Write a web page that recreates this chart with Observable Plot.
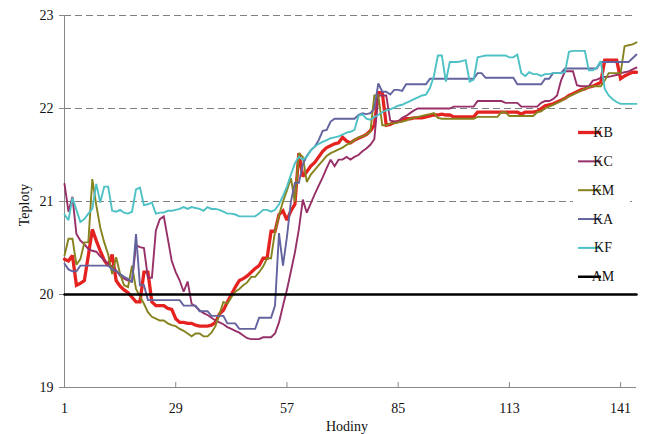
<!DOCTYPE html>
<html>
<head>
<meta charset="utf-8">
<script src="https://cdn.jsdelivr.net/npm/d3@7"></script>
<script src="https://cdn.jsdelivr.net/npm/@observablehq/plot@0.6"></script>
<style>
  html, body { margin: 0; padding: 0; background: #fff; }
  #chart { width: 645px; height: 434px; }
</style>
</head>
<body>
<div id="chart"></div>
<script>
// Hours 1..145
const hours = d3.range(1, 146);
const xTicks = [1, 29, 57, 85, 113, 141];
const yTicks = [19, 20, 21, 22, 23];
const gridValues = [21, 22, 23];
const seriesNames = ["KB", "KC", "KM", "KA", "KF", "AM"];
const seriesColors = ["#e42320", "#973068", "#86821e", "#63639f", "#4dc1c5", "#000000"];
const seriesWidths = [3.3, 1.9, 1.9, 1.9, 1.9, 2.5];
const legendWidths = [3.3, 2, 2, 2, 2, 2.5];
const xLabel = "Hodiny";
const yLabel = "Teploty";

const KB = [
  20.38, 20.36, 20.42, 20.10, 20.12, 20.15, 20.42, 20.70, 20.58, 20.47,
  20.37, 20.31, 20.43, 20.15, 20.09, 20.05, 20.02, 19.97, 19.92, 19.92,
  20.24, 20.24, 19.92, 19.88, 19.88, 19.88, 19.85, 19.84, 19.74, 19.70,
  19.70, 19.69, 19.69, 19.67, 19.66, 19.66, 19.66, 19.67, 19.70, 19.79,
  19.83, 19.92, 20.00, 20.08, 20.15, 20.17, 20.20, 20.24, 20.28, 20.31,
  20.39, 20.39, 20.68, 20.68, 20.86, 20.90, 20.80, 20.90, 20.97, 21.52,
  21.27, 21.32, 21.38, 21.42, 21.48, 21.54, 21.58, 21.60, 21.62, 21.63,
  21.69, 21.65, 21.63, 21.66, 21.68, 21.70, 21.72, 21.76, 21.82, 22.17,
  22.17, 21.82, 21.83, 21.85, 21.86, 21.87, 21.89, 21.89, 21.90, 21.90,
  21.90, 21.91, 21.92, 21.93, 21.93, 21.94, 21.93, 21.93, 21.91, 21.91,
  21.91, 21.91, 21.91, 21.91, 21.96, 21.96, 21.96, 21.96, 21.96, 21.96,
  21.96, 21.96, 21.96, 21.96, 21.96, 21.94, 21.96, 21.96, 21.96, 21.97,
  22.00, 22.03, 22.04, 22.05, 22.07, 22.09, 22.11, 22.14, 22.16, 22.18,
  22.20, 22.21, 22.23, 22.24, 22.26, 22.28, 22.52, 22.52, 22.52, 22.52,
  22.32, 22.35, 22.37, 22.39, 22.39
];
const KC = [
  21.19, 20.89, 21.05, 20.65, 20.58, 20.54, 20.49, 20.47, 20.46, 20.41,
  20.37, 20.33, 20.30, 20.26, 20.20, 20.17, 20.15, 20.14, 20.53, 20.51,
  20.50, 20.18, 20.18, 20.69, 20.81, 20.84, 20.60, 20.36, 20.24, 20.15,
  20.03, 20.14, 19.90, 19.87, 19.83, 19.80, 19.78, 19.75, 19.72, 19.70,
  19.68, 19.65, 19.63, 19.61, 19.59, 19.56, 19.53, 19.52, 19.52, 19.52,
  19.54, 19.54, 19.54, 19.58, 19.70, 19.88, 20.05, 20.25, 20.45, 20.70,
  21.02, 20.88, 20.98, 21.08, 21.17, 21.26, 21.36, 21.45, 21.38, 21.45,
  21.45, 21.48, 21.45, 21.48, 21.50, 21.54, 21.57, 21.61, 21.67, 22.14,
  22.14, 22.14, 21.87, 21.86, 21.86, 21.90, 21.92, 21.95, 21.98, 22.00,
  22.00, 22.00, 22.00, 22.00, 22.00, 22.00, 22.00, 22.00, 22.02, 22.02,
  22.02, 22.02, 22.02, 22.02, 22.08, 22.08, 22.08, 22.08, 22.08, 22.08,
  22.08, 22.06, 22.06, 22.06, 22.06, 22.02, 22.02, 22.02, 22.02, 22.02,
  22.06, 22.08, 22.08, 22.10, 22.14, 22.30, 22.40, 22.40, 22.40, 22.25,
  22.24, 22.24, 22.24, 22.30, 22.31, 22.33, 22.34, 22.34, 22.35, 22.36,
  22.38, 22.39, 22.40, 22.42, 22.44
];
const KM = [
  20.42, 20.60, 20.60, 20.32, 20.38, 20.56, 20.56, 21.24, 20.96, 20.72,
  20.56, 20.43, 20.22, 20.40, 20.22, 20.10, 20.08, 20.31, 20.06, 19.98,
  19.90, 19.81, 19.76, 19.74, 19.72, 19.72, 19.69, 19.67, 19.66, 19.63,
  19.61, 19.58, 19.55, 19.58, 19.58, 19.55, 19.55, 19.59, 19.66, 19.79,
  19.92, 19.90, 19.97, 20.03, 20.06, 20.10, 20.13, 20.19, 20.19, 20.24,
  20.30, 20.39, 20.39, 20.68, 20.85, 21.00, 21.12, 21.25, 21.00, 21.52,
  21.48, 21.21, 21.29, 21.34, 21.39, 21.44, 21.49, 21.52, 21.54, 21.56,
  21.58, 21.61, 21.63, 21.66, 21.69, 21.70, 21.72, 21.75, 22.14, 22.14,
  21.82, 21.82, 21.84, 21.84, 21.85, 21.86, 21.87, 21.89, 21.90, 21.91,
  21.92, 21.93, 21.94, 21.95, 21.90, 21.89, 21.89, 21.89, 21.89, 21.89,
  21.89, 21.89, 21.89, 21.89, 21.91, 21.91, 21.91, 21.91, 21.91, 21.91,
  21.96, 21.96, 21.92, 21.92, 21.92, 21.92, 21.92, 21.92, 21.92, 21.96,
  21.97, 22.00, 22.02, 22.04, 22.06, 22.08, 22.11, 22.13, 22.15, 22.17,
  22.19, 22.21, 22.23, 22.24, 22.24, 22.24, 22.30, 22.38, 22.38, 22.38,
  22.38, 22.67, 22.68, 22.69, 22.71
];
const KA = [
  20.33, 20.27, 20.25, 20.25, 20.31, 20.31, 20.31, 20.31, 20.31, 20.31,
  20.31, 20.31, 20.27, 20.25, 20.22, 20.19, 20.17, 20.13, 20.65, 20.10,
  20.10, 19.94, 19.94, 19.94, 19.94, 19.94, 19.94, 19.94, 19.94, 19.94,
  19.88, 19.88, 19.88, 19.88, 19.82, 19.82, 19.82, 19.77, 19.77, 19.77,
  19.77, 19.69, 19.69, 19.69, 19.63, 19.63, 19.63, 19.63, 19.63, 19.75,
  19.75, 19.75, 19.75, 19.88, 20.66, 20.31, 20.62, 21.00, 21.20, 21.20,
  21.40, 21.49, 21.55, 21.59, 21.66, 21.76, 21.77, 21.86, 21.89, 21.89,
  21.89, 21.89, 21.89, 21.89, 21.93, 21.95, 21.94, 21.95, 22.00, 22.27,
  22.18, 22.18, 22.15, 22.20, 22.20, 22.19, 22.26, 22.26, 22.26, 22.26,
  22.26, 22.26, 22.32, 22.32, 22.32, 22.32, 22.32, 22.32, 22.32, 22.32,
  22.32, 22.32, 22.32, 22.32, 22.38, 22.38, 22.33, 22.33, 22.33, 22.33,
  22.33, 22.33, 22.33, 22.33, 22.26, 22.26, 22.26, 22.26, 22.26, 22.26,
  22.26, 22.32, 22.32, 22.38, 22.38, 22.38, 22.43, 22.43, 22.43, 22.43,
  22.43, 22.43, 22.43, 22.43, 22.43, 22.50, 22.50, 22.50, 22.50, 22.50,
  22.50, 22.50, 22.50, 22.54, 22.58
];
const KF = [
  20.86, 20.80, 21.04, 20.91, 20.78, 20.81, 20.87, 20.92, 21.19, 20.99,
  21.16, 21.16, 20.90, 20.89, 20.91, 20.88, 20.87, 20.89, 21.13, 21.15,
  20.96, 20.97, 20.99, 20.87, 20.88, 20.88, 20.90, 20.90, 20.91, 20.92,
  20.94, 20.92, 20.94, 20.93, 20.92, 20.90, 20.94, 20.92, 20.92, 20.91,
  20.89, 20.87, 20.87, 20.86, 20.84, 20.84, 20.84, 20.84, 20.84, 20.87,
  20.91, 20.91, 20.89, 20.91, 20.97, 21.06, 21.16, 21.29, 21.41, 21.48,
  21.45, 21.48, 21.55, 21.59, 21.62, 21.64, 21.66, 21.68, 21.69, 21.70,
  21.72, 21.74, 21.75, 21.77, 21.92, 21.94, 21.89, 21.88, 21.91, 21.93,
  21.96, 21.98, 21.99, 22.01, 22.03, 22.04, 22.06, 22.08, 22.10, 22.12,
  22.14, 22.15, 22.22, 22.35, 22.57, 22.57, 22.29, 22.50, 22.50, 22.50,
  22.51, 22.52, 22.29, 22.31, 22.55, 22.56, 22.57, 22.57, 22.57, 22.57,
  22.57, 22.57, 22.55, 22.55, 22.58, 22.38, 22.35, 22.39, 22.37, 22.37,
  22.35, 22.37, 22.37, 22.38, 22.38, 22.38, 22.39, 22.61, 22.62, 22.62,
  22.62, 22.62, 22.41, 22.41, 22.44, 22.51, 22.21, 22.14, 22.10, 22.07,
  22.05, 22.05, 22.05, 22.05, 22.05
];
const AM_LEVEL = 20;
const AM = hours.map(() => AM_LEVEL);

const seriesValues = [KB, KC, KM, KA, KF, AM];
const rows = hours.map((h, i) => {
  const r = {hour: h};
  seriesNames.forEach((n, k) => r[n] = seriesValues[k][i]);
  return r;
});

const W = 645, H = 434;
const mL = 64, mR = 9, mT = 15, mB = 47;
const yDom = [19, 23];
const tickLen = 5 * (yDom[1] - yDom[0]) / (H - mT - mB);

const chart = Plot.plot({
  width: W,
  height: H,
  marginLeft: mL,
  marginRight: mR,
  marginTop: mT,
  marginBottom: mB,
  style: {fontFamily: "'Liberation Serif', 'Times New Roman', serif", fontSize: "14px", background: "#fff", color: "#111"},
  x: {domain: [1, 145]},
  y: {domain: yDom},
  marks: [
    Plot.ruleY(gridValues, {stroke: "#808080", strokeWidth: 1, strokeDasharray: "7,4"}),
    Plot.ruleX([1], {stroke: "#888", strokeWidth: 1}),
    Plot.ruleY([yDom[0]], {stroke: "#888", strokeWidth: 1}),
    Plot.ruleX(xTicks.slice(1), {y1: yDom[0], y2: yDom[0] + tickLen, stroke: "#888", strokeWidth: 1}),
    Plot.axisY({ticks: yTicks, tickSize: 5, tickPadding: 6, label: null, stroke: "#888", fill: "#111", fontSize: 14, tickFormat: d => String(d)}),
    Plot.axisX({ticks: xTicks, tickSize: 0, tickPadding: 16, label: null, fill: "#111", fontSize: 14, tickFormat: d => String(d)}),
    ...seriesNames.map((n, k) => Plot.line(rows, {x: "hour", y: n, stroke: seriesColors[k], strokeWidth: seriesWidths[k], strokeLinejoin: "miter", strokeMiterlimit: 2}))
  ]
});

document.getElementById("chart").appendChild(chart);

const svg = d3.select(chart);
const font = "'Liberation Serif', 'Times New Roman', serif";

// axis titles
svg.append("text")
  .attr("transform", "translate(24,205) rotate(-90)")
  .attr("text-anchor", "middle")
  .attr("dominant-baseline", "central")
  .attr("font-family", font).attr("font-size", 14).attr("fill", "#111")
  .text(yLabel);
svg.append("text")
  .attr("x", 347).attr("y", 431)
  .attr("text-anchor", "middle")
  .attr("font-family", font).attr("font-size", 14).attr("fill", "#111")
  .text(xLabel);

// legend
const lg = svg.append("g");
lg.append("rect").attr("x", 573).attr("y", 117).attr("width", 57).attr("height", 173).attr("fill", "#fff");
seriesNames.forEach((n, k) => {
  const y = 132.5 + k * 28.85;
  lg.append("line").attr("x1", 578).attr("x2", 601).attr("y1", y).attr("y2", y)
    .attr("stroke", seriesColors[k]).attr("stroke-width", legendWidths[k]);
  lg.append("text").attr("x", 603).attr("y", y)
    .attr("dominant-baseline", "central")
    .attr("font-family", font).attr("font-size", 14).attr("fill", "#111")
    .text(n);
});
</script>
</body>
</html>
